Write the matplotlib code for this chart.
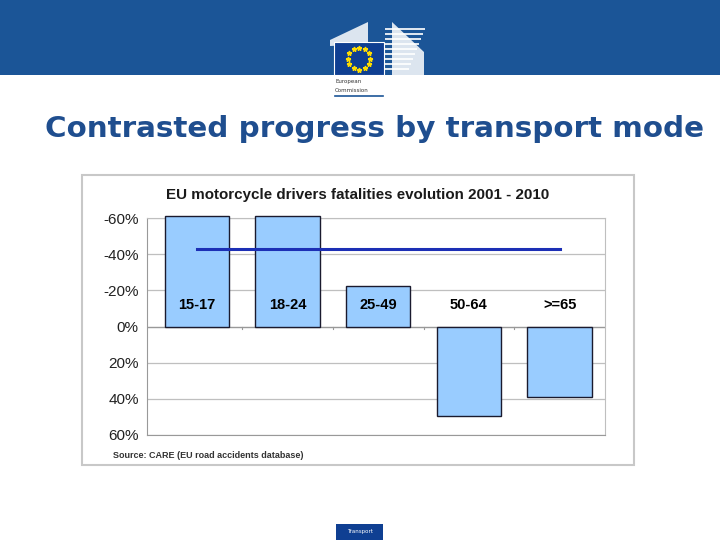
import numpy as np
import matplotlib
matplotlib.use("Agg")
import matplotlib.pyplot as plt
from matplotlib.patches import Rectangle, Polygon

# Data (negative = decrease in fatalities, axis is inverted)
age_groups = ["15-17", "18-24", "25-49", "50-64", ">=65"]
evolution = [-61, -61, -22.6, 49.4, 38.8]
eu_average = -43
y_ticks = [-60, -40, -20, 0, 20, 40, 60]
y_tick_labels = ["-60%", "-40%", "-20%", "0%", "20%", "40%", "60%"]

W, H = 720, 540
fig = plt.figure(figsize=(7.2, 5.4), dpi=100)
fig.patch.set_facecolor("white")

def fx(px):
    return px / W

def fy(py):
    return 1 - py / H

# Header band
fig.patches.append(Rectangle((0, fy(75)), 1, 75 / H, transform=fig.transFigure,
                             facecolor="#1b5597", edgecolor="none", zorder=0))
# Logo: white background under the flag
fig.patches.append(Rectangle((fx(333), fy(98)), 52 / W, 23 / H, transform=fig.transFigure,
                             facecolor="white", edgecolor="none", zorder=1))
# stylised building stripes
for i in range(9):
    y0 = 42 + i * 4.5
    fig.patches.append(Polygon([(fx(312), fy(y0 + 40 - i * 0.5)), (fx(312 + 24 + i * 3), fy(y0 + 40 - i * 0.5)),
                                (fx(312 + 24 + i * 3), fy(y0 + 42 - i * 0.5)), (fx(312), fy(y0 + 42 - i * 0.5))],
                               closed=True, transform=fig.transFigure, facecolor="white",
                               edgecolor="none", alpha=0.85, zorder=1))
for i in range(9):
    fig.patches.append(Rectangle((fx(385), fy(30 + i * 5)), (40 - i * 2) / W, 2 / H,
                                 transform=fig.transFigure, facecolor="white",
                                 edgecolor="none", alpha=0.85, zorder=1))
fig.patches.append(Polygon([(fx(330), fy(40)), (fx(368), fy(22)), (fx(368), fy(44)), (fx(330), fy(46))],
                           closed=True, transform=fig.transFigure, facecolor="white",
                           edgecolor="none", alpha=0.85, zorder=1))
fig.patches.append(Polygon([(fx(392), fy(22)), (fx(424), fy(52)), (fx(424), fy(75)), (fx(392), fy(75))],
                           closed=True, transform=fig.transFigure, facecolor="white",
                           edgecolor="none", alpha=0.85, zorder=1))
# flag
fig.patches.append(Rectangle((fx(334), fy(75)), 50 / W, 33 / H, transform=fig.transFigure,
                             facecolor="#0f3f92", edgecolor="white", linewidth=0.8, zorder=2))
ang = np.linspace(0, 2 * np.pi, 13)[:-1]
fig.add_artist(plt.Line2D(fx(359) + 11 / W * np.cos(ang), fy(58.5) + 11 / H * np.sin(ang),
                          transform=fig.transFigure, linestyle="none", marker="*",
                          markersize=3.5, color="#ffdd00", zorder=3))
fig.text(fx(335), fy(82), "European", fontsize=4, color="#333333", va="center", ha="left")
fig.text(fx(335), fy(90), "Commission", fontsize=4, color="#333333", va="center", ha="left")
fig.add_artist(plt.Line2D([fx(335), fx(383)], [fy(96), fy(96)], transform=fig.transFigure,
                          color="#1b5597", linewidth=1.2))

# Slide title
fig.text(fx(374), fy(129), "Contrasted progress by transport mode", fontsize=21.2,
         fontweight="bold", color="#1f4e8f", ha="center", va="center",
         family="DejaVu Sans")

# Chart frame
fig.patches.append(Rectangle((fx(82), fy(465)), 552 / W, 290 / H, transform=fig.transFigure,
                             facecolor="white", edgecolor="#c8c8c8", linewidth=1.5, zorder=1))

ax = fig.add_axes([fx(147), fy(435), 458 / W, 217 / H])
ax.set_zorder(2)
x = np.arange(len(age_groups))
ax.bar(x, evolution, width=0.71, color="#99ccff", edgecolor="#1a1a2e", linewidth=1.0,
       zorder=3, clip_on=False)
ax.plot([x[0], x[-1]], [eu_average, eu_average], color="#1c2fb5", linewidth=2.2, zorder=4)
for xi, lab in zip(x, age_groups):
    ax.text(xi, -12, lab, ha="center", va="center", fontsize=10.5, fontweight="bold",
            family="Liberation Sans", color="black", zorder=5)

ax.set_xlim(-0.55, len(age_groups) - 0.5)
ax.set_ylim(60, -60)
ax.set_yticks(y_ticks)
ax.set_yticklabels(y_tick_labels, family="Liberation Sans", fontsize=11, color="#222222")
ax.set_xticks([])
ax.grid(axis="y", color="#bfbfbf", linewidth=0.9, zorder=0)
for s in ["top", "right"]:
    ax.spines[s].set_color("#bfbfbf")
for s in ["left", "bottom"]:
    ax.spines[s].set_color("#999999")
ax.tick_params(axis="y", length=0, pad=6)
# category separators on the zero line
for b in np.arange(0.5, len(age_groups) - 0.5, 1):
    ax.plot([b, b], [0, 1.5], color="#999999", linewidth=0.8, zorder=2)
ax.axhline(0, color="#999999", linewidth=0.9, zorder=2)

fig.text(fx(358), fy(195), "EU motorcycle drivers fatalities evolution 2001 - 2010",
         fontsize=10.9, fontweight="bold", family="Liberation Sans", color="#1a1a1a",
         ha="center", va="center")
fig.text(fx(113), fy(455), "Source: CARE (EU road accidents database)", fontsize=6.5,
         fontweight="bold", family="Liberation Sans", color="#333333", ha="left", va="center")

# Footer tag
fig.patches.append(Rectangle((fx(336), fy(540)), 47 / W, 16 / H, transform=fig.transFigure,
                             facecolor="#0f3f92", edgecolor="none", zorder=1))
fig.text(fx(359.5), fy(532), "Transport", fontsize=4, color="white", ha="center", va="center")

fig.savefig("out.png", dpi=100)
